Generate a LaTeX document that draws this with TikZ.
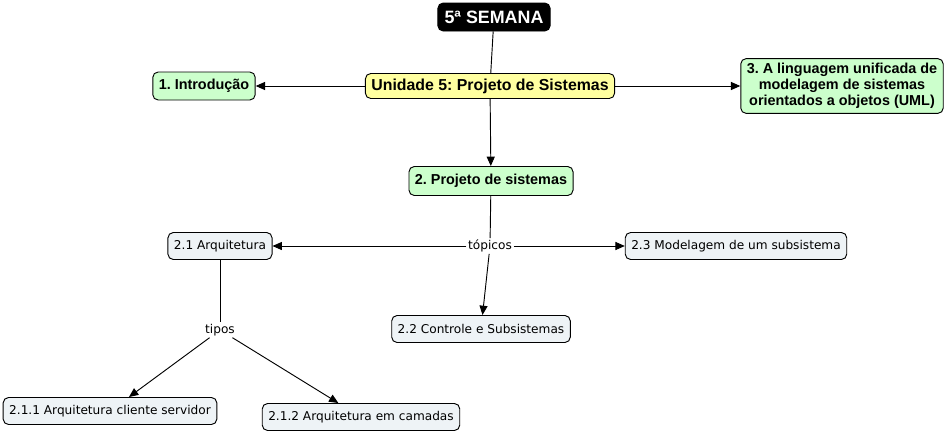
\documentclass[tikz,border=0pt]{standalone}
\usepackage{fontspec}
\setmainfont{Liberation Sans}
\newfontfamily\verdana{DejaVu Sans}
\usetikzlibrary{arrows.meta}
\definecolor{cmgreen}{RGB}{204,255,204}
\definecolor{cmyellow}{RGB}{255,255,160}
\definecolor{cmgrey}{RGB}{238,243,246}
\tikzset{
  topic/.style={draw,rounded corners=4pt,font=\bfseries\fontsize{10.8}{12}\selectfont,inner xsep=4.5pt,inner ysep=2pt,minimum height=21pt,align=center},
  leaf/.style={draw,rounded corners=4pt,fill=cmgrey,font=\verdana\fontsize{9.1}{11}\selectfont,inner xsep=4.5pt,inner ysep=2pt,minimum height=20.25pt},
  link/.style={font=\verdana\fontsize{9.1}{11}\selectfont,inner sep=1pt},
  arr/.style={-{Triangle[length=7pt,width=6pt]}}
}
\frenchspacing
\begin{document}
\begin{tikzpicture}[x=0.75pt,y=-0.75pt,line width=0.7pt]
\useasboundingbox (0,0) rectangle (947,433);
% main concepts
\node [draw,fill=black,text=white,rounded corners=4pt,font=\bfseries\fontsize{13.4}{15}\selectfont,inner xsep=5pt,inner ysep=2pt,minimum height=21pt] (semana) at (494,17) {5ª SEMANA};
\node [topic,fill=cmyellow,font=\bfseries\fontsize{11.9}{13}\selectfont,minimum height=18.75pt] (unidade) at (490,86) {Unidade 5: Projeto de Sistemas};
\node [topic,fill=cmgreen] (intro) at (204,86) {1. Introdução};
\node [topic,fill=cmgreen,inner ysep=3.5pt] (uml) at (842,86) {3. A linguagem unificada de\\modelagem de sistemas\\orientados a objetos (UML)};
\node [topic,fill=cmgreen,minimum height=21.75pt] (projeto) at (491,181) {2. Projeto de sistemas};
% sub topics
\node [link] (topicos) at (490,246) {tópicos};
\node [leaf] (arq) at (220,246) {2.1 Arquitetura};
\node [leaf] (modelagem) at (736,246) {2.3 Modelagem de um subsistema};
\node [leaf] (controle) at (481,329) {2.2 Controle e Subsistemas};
\node [link] (tipos) at (220,330) {tipos};
\node [leaf] (cliente) at (110,411) {2.1.1 Arquitetura cliente servidor};
\node [leaf] (camadas) at (361,417) {2.1.2 Arquitetura em camadas};
% connectors
\draw (semana) -- (unidade);
\draw [arr] (unidade) -- (intro);
\draw [arr] (unidade) -- (uml);
\draw [arr] (unidade) -- (projeto);
\draw (projeto) -- (topicos);
\draw [arr] (topicos) -- (arq);
\draw [arr] (topicos) -- (modelagem);
\draw [arr] (topicos) -- (controle);
\draw (arq) -- (tipos);
\draw [arr] (tipos) -- (cliente);
\draw [arr] (tipos) -- (camadas);
\end{tikzpicture}
\end{document}
